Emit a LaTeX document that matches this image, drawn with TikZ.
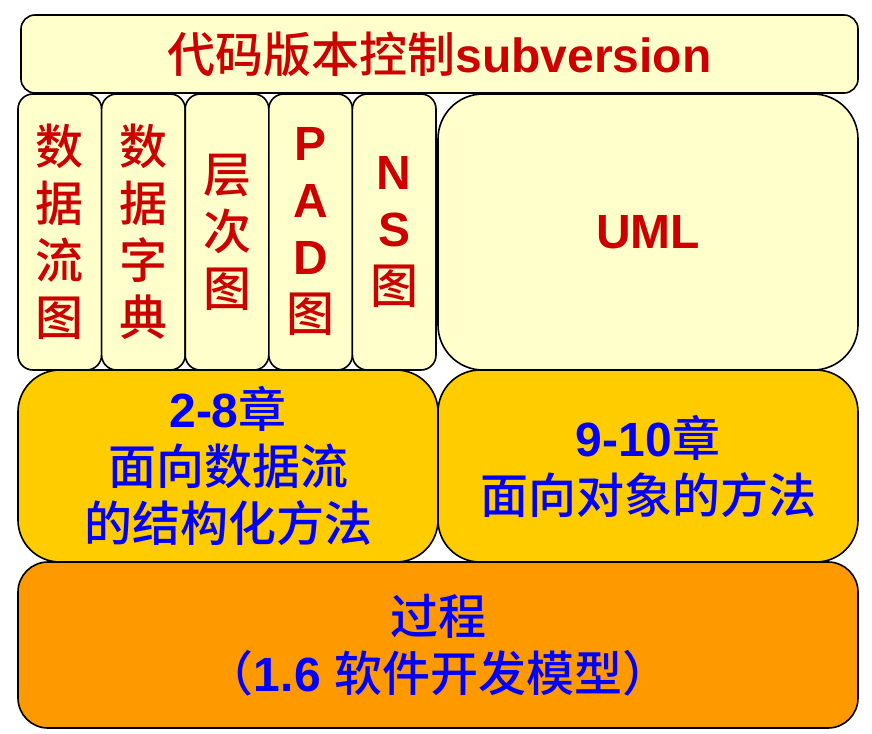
\documentclass[tikz,border=0pt]{standalone}
\usepackage{fontspec}
\setmainfont{Liberation Sans}
\newfontfamily\cjk{Noto Sans CJK SC}[UprightFont={* Medium}, BoldFont={* Medium}]
\usetikzlibrary{positioning}
\definecolor{paleyellow}{HTML}{FFFFCC}
\definecolor{gold}{HTML}{FFCC00}
\definecolor{tangerine}{HTML}{FF9900}
\definecolor{crimson}{HTML}{CC0000}
\definecolor{pureblue}{HTML}{0000FF}
\newcommand{\zh}[1]{{\cjk #1}}
\tikzset{
  layerbox/.style={
    rectangle, draw=black, line width=1.6pt, fill=#1,
    outer sep=0pt, inner sep=0pt, align=center,
    font=\bfseries\fontsize{48}{57}\selectfont
  },
  layerbox/.default=paleyellow,
  toolbar/.style={layerbox, text=crimson, rounded corners=14pt,
    minimum width=837pt, minimum height=78pt},
  colbox/.style={layerbox, text=crimson, rounded corners=15pt,
    minimum width=83.6pt, minimum height=276pt},
  umlbox/.style={layerbox, text=crimson, rounded corners=45pt,
    minimum width=420pt, minimum height=276pt},
  methodbox/.style={layerbox=gold, text=pureblue, rounded corners=42pt,
    minimum width=420pt, minimum height=192pt},
  processbox/.style={layerbox=tangerine, text=pureblue, rounded corners=30pt,
    minimum width=840pt, minimum height=166pt},
}
\begin{document}
\begin{tikzpicture}[x=1pt, y=-1pt, node distance=0pt]
\useasboundingbox (0,0) rectangle (872,733);

% Version control across the top
\node[toolbar] (svn) at (439.5,54) {\zh{代码版本控制}subversion};

% Tool columns
\node[colbox, below right=1pt and -3pt of svn.south west] (dfd) {\zh{数}\\\zh{据}\\\zh{流}\\\zh{图}};
\node[colbox, right=of dfd] (dict) {\zh{数}\\\zh{据}\\\zh{字}\\\zh{典}};
\node[colbox, right=of dict] (hier) {\zh{层}\\\zh{次}\\\zh{图}};
\node[colbox, right=of hier] (pad) {P\\A\\D\\\zh{图}};
\node[colbox, right=of pad] (ns) {N\\S\\\zh{图}};
\node[umlbox, right=2pt of ns] (uml) {UML};

% Methods
\node[methodbox, below right=0pt and 0pt of dfd.south west] (struct) {2-8\zh{章}\\\zh{面向数据流}\\\zh{的结构化方法}};
\node[methodbox, right=of struct] (oo) {9-10\zh{章}\\\zh{面向对象的方法}};

% Process at the base
\node[processbox, below right=0pt and 0pt of struct.south west] (proc) {\zh{过程}\\\zh{（}1.6 \zh{软件开发模型）}};

\end{tikzpicture}
\end{document}
